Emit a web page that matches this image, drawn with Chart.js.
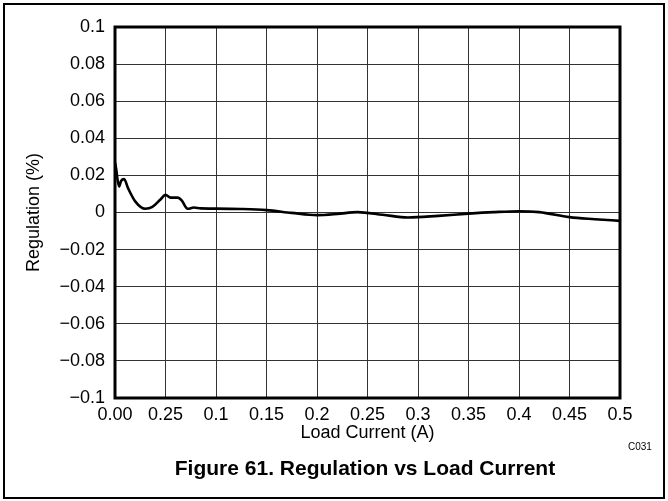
<html>
<head>
<title>Regulation vs Load Current</title>
<style>
  body { margin: 0; background: #fff; font-family: Arial, 'Liberation Sans', sans-serif; }
  #wrap { position: relative; width: 668px; height: 501px; }
  #frame { position: absolute; left: 3px; top: 3px; width: 658px; height: 492px; border: 2px solid #000; }
  canvas { position: absolute; left: 0; top: 0; }
  #code { position: absolute; left: 628px; top: 441px; font-size: 10px; color: #000; }
  #caption { position: absolute; left: 0; width: 730px; top: 456px; text-align: center; font-size: 21px; font-weight: bold; color: #000; }
</style>
</head>
<body>
<div id="wrap">
  <div id="frame"></div>
  <canvas id="chart" width="668" height="501"></canvas>
  <div id="code">C031</div>
  <div id="caption">Figure 61. Regulation vs Load Current</div>
</div>
<script src="https://cdn.jsdelivr.net/npm/chart.js"></script>
<script>
// values
var loadCurrent = [0, 0.001, 0.004, 0.006, 0.009, 0.013, 0.02, 0.03, 0.037, 0.045, 0.05, 0.055, 0.062, 0.066, 0.072, 0.078, 0.085, 0.1, 0.125, 0.15, 0.175, 0.2, 0.22, 0.24, 0.265, 0.29, 0.32, 0.35, 0.375, 0.4, 0.42, 0.45, 0.475, 0.5];
var regulation = [0.027, 0.024, 0.014, 0.017, 0.018, 0.013, 0.006, 0.002, 0.003, 0.007, 0.0095, 0.008, 0.008, 0.0065, 0.002, 0.0027, 0.0022, 0.0021, 0.0019, 0.0013, -0.0002, -0.0014, -0.0008, 0.0002, -0.0012, -0.0027, -0.0018, -0.0006, 0.0002, 0.0007, 0.0002, -0.0025, -0.0036, -0.0045];
var xTickLabels = ['0.00', '0.25', '0.1', '0.15', '0.2', '0.25', '0.3', '0.35', '0.4', '0.45', '0.5'];
var yTickLabels = ['\u22120.1', '\u22120.08', '\u22120.06', '\u22120.04', '\u22120.02', '0', '0.02', '0.04', '0.06', '0.08', '0.1'];

Chart.defaults.font.family = "Arial, 'Liberation Sans', sans-serif";
Chart.defaults.color = '#000';

var points = loadCurrent.map(function(x, i) { return { x: x, y: regulation[i] }; });

// thick box round the plot area
var plotBox = {
  id: 'plotBox',
  afterDraw: function(chart) {
    var a = chart.chartArea, c = chart.ctx;
    c.save();
    c.strokeStyle = '#000';
    c.lineWidth = 3;
    c.strokeRect(a.left, a.top, a.right - a.left, a.bottom - a.top);
    c.restore();
  }
};

var ctx = document.getElementById('chart').getContext('2d');
var chart = new Chart(ctx, {
  type: 'line',
  data: {
    datasets: [{
      label: 'Regulation',
      data: points,
      borderColor: '#000',
      borderWidth: 2.6,
      pointRadius: 0,
      tension: 0.4,
      cubicInterpolationMode: 'monotone',
      fill: false
    }]
  },
  options: {
    responsive: false,
    devicePixelRatio: 1,
    animation: false,
    layout: { padding: { left: 15, top: 27, right: 48, bottom: 57 } },
    plugins: { legend: { display: false }, tooltip: { enabled: false } },
    scales: {
      x: {
        type: 'linear',
        min: 0, max: 0.5,
        afterFit: function(s) { s.height = 46; },
        grid: { color: '#333', lineWidth: 1, drawTicks: false },
        border: { display: false },
        ticks: {
          stepSize: 0.05, padding: 6, maxRotation: 0, autoSkip: false,
          font: { size: 18 },
          callback: function(v, i) { return xTickLabels[i]; }
        },
        title: { display: true, text: 'Load Current (A)', font: { size: 18 }, padding: { top: 0, bottom: 0 } }
      },
      y: {
        min: -0.1, max: 0.1,
        afterFit: function(s) { s.width = 100; },
        grid: { color: '#333', lineWidth: 1, drawTicks: false },
        border: { display: false },
        ticks: {
          stepSize: 0.02, padding: 10,
          font: { size: 18 },
          callback: function(v, i) { return yTickLabels[i]; }
        },
        title: { display: true, text: 'Regulation (%)', font: { size: 18 }, padding: { top: 8, bottom: 0 } }
      }
    }
  },
  plugins: [plotBox]
});
</script>
</body>
</html>
